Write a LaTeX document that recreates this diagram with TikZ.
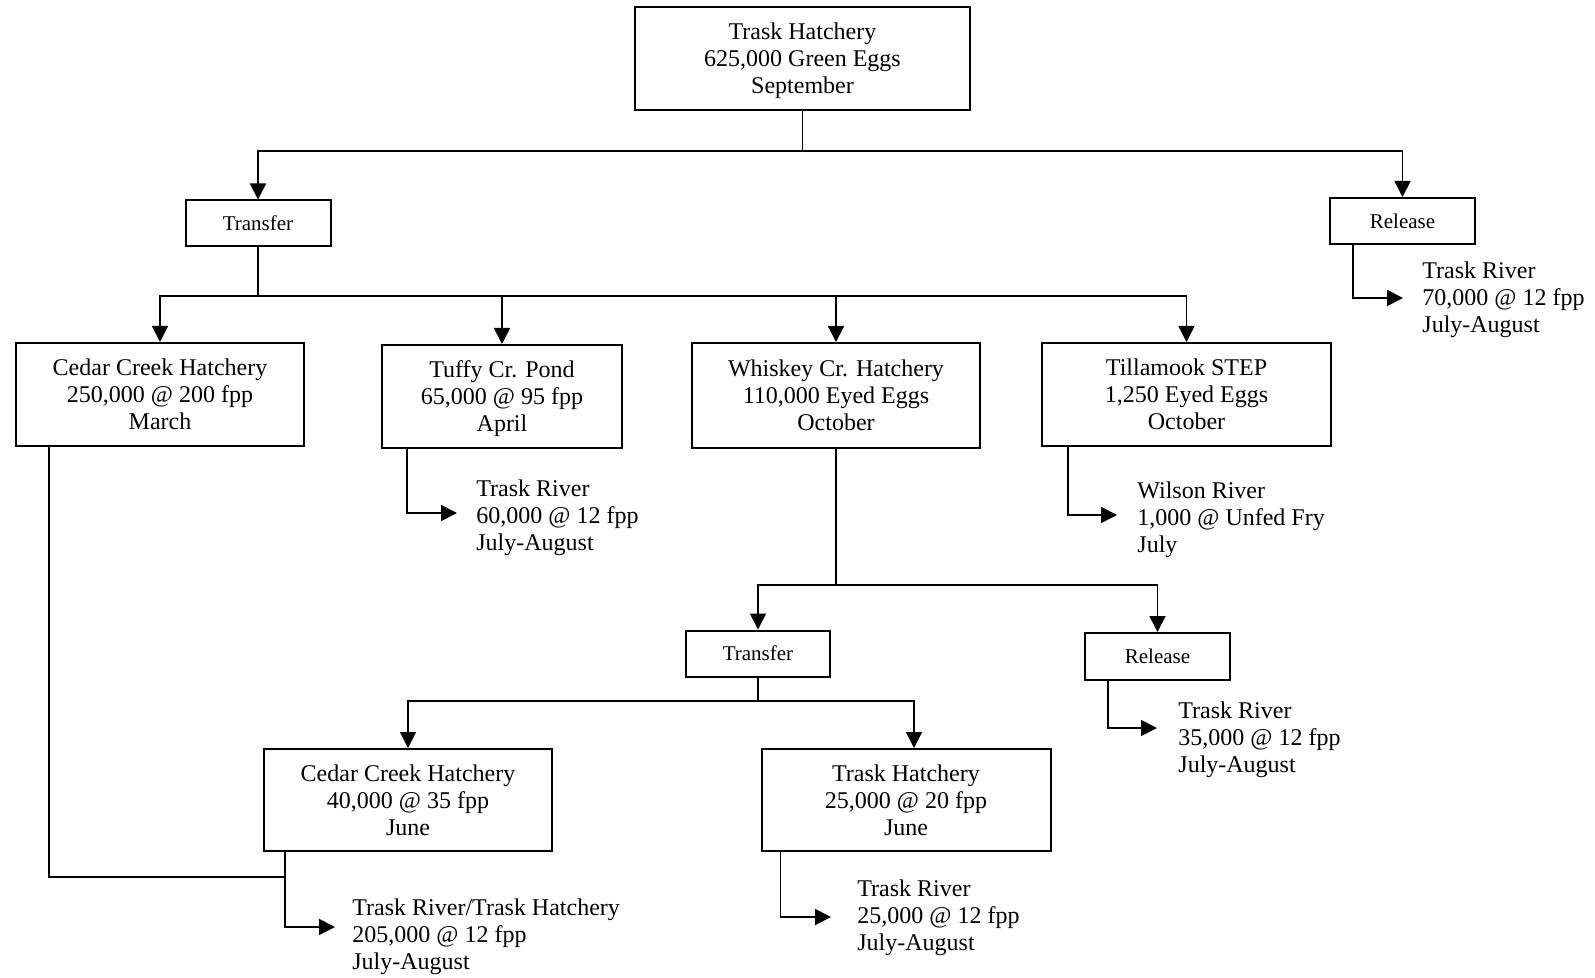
\documentclass[tikz,border=0pt]{standalone}
\usepackage{fontspec}
\setmainfont{Liberation Serif}
\usetikzlibrary{arrows.meta}

\begin{document}
\begin{tikzpicture}[x=0.5pt, y=-0.5pt,
	sitebox/.style={rectangle, draw=black, line width=1pt, align=center, inner sep=0pt, text depth=0pt, minimum width=144pt, minimum height=51.5pt, font=\fontsize{12}{13.5}\selectfont},
	actbox/.style={rectangle, draw=black, line width=1pt, inner sep=0pt, text depth=0pt, minimum width=72.5pt, minimum height=23pt, font=\fontsize{10.5}{12}\selectfont},
	outtext/.style={anchor=west, align=left, inner sep=0pt, font=\fontsize{12}{13.5}\selectfont},
	link/.style={line width=0.9pt},
	arrow/.style={line width=0.9pt, -{Triangle[length=8pt, width=8pt]}}]
	\useasboundingbox (0,0) rectangle (1595,978);

	\node[sitebox, minimum width=167.5pt] (trask) at (802.5,58.5) {Trask Hatchery\\625,000 Green Eggs\\September};
	\node[actbox] (transfer1) at (258,223.5) {Transfer};
	\node[actbox] (release1) at (1402.5,221) {Release};
	\node[sitebox] (cedar1) at (160,394.5) {Cedar Creek Hatchery\\250,000 @ 200 fpp\\March};
	\node[sitebox, minimum width=120pt] (tuffy) at (502,396.5) {Tuffy Cr. Pond\\65,000 @ 95 fpp\\April};
	\node[sitebox, minimum height=52.5pt] (whiskey) at (836,395.5) {Whiskey Cr. Hatchery\\110,000 Eyed Eggs\\October};
	\node[sitebox, minimum width=144.5pt] (tillamook) at (1186.5,394.5) {Tillamook STEP\\1,250 Eyed Eggs\\October};
	\node[actbox, minimum width=72pt] (transfer2) at (758,653.5) {Transfer};
	\node[actbox, minimum height=23.5pt] (release2) at (1157.5,656.5) {Release};
	\node[sitebox, minimum height=51pt] (cedar2) at (408,800) {Cedar Creek Hatchery\\40,000 @ 35 fpp\\June};
	\node[sitebox, minimum width=144.5pt, minimum height=51pt] (traskhatch) at (906,800) {Trask Hatchery\\25,000 @ 20 fpp\\June};

	\node[outtext] (rel1out) at (1422,300) {Trask River\\70,000 @ 12 fpp\\July-August};
	\node[outtext] (tuffyout) at (476,518) {Trask River\\60,000 @ 12 fpp\\July-August};
	\node[outtext] (tillout) at (1137,520) {Wilson River\\1,000 @ Unfed Fry\\July};
	\node[outtext] (rel2out) at (1178,740) {Trask River\\35,000 @ 12 fpp\\July-August};
	\node[outtext] (cedarout) at (352,937) {Trask River/Trask Hatchery\\205,000 @ 12 fpp\\July-August};
	\node[outtext] (traskout) at (857,918) {Trask River\\25,000 @ 12 fpp\\July-August};

	% junctions and arrow ends
	\coordinate (split1) at (802.5,151);
	\coordinate (split2) at (258,296);
	\coordinate (split3) at (836,585);
	\coordinate (split4) at (758,701);
	\coordinate (merge) at (286,877);
	\coordinate (rel1end) at (1403,298);
	\coordinate (tuffyend) at (457,513);
	\coordinate (tillend) at (1117,515);
	\coordinate (rel2end) at (1157,728);
	\coordinate (cedarend) at (335,927);
	\coordinate (traskend) at (831,917);

	\draw[link] (trask) -- (split1);
	\draw[arrow] (split1) -| (transfer1.north);
	\draw[arrow] (split1) -| (release1.north);
	\draw[link] (transfer1) -- (split2);
	\draw[arrow] (split2) -| (cedar1.north);
	\draw[arrow] (split2) -| (tuffy.north);
	\draw[arrow] (split2) -| (whiskey.north);
	\draw[arrow] (split2) -| (tillamook.north);
	\draw[link] (whiskey) -- (split3);
	\draw[arrow] (split3) -| (transfer2.north);
	\draw[arrow] (split3) -| (release2.north);
	\draw[link] (transfer2) -- (split4);
	\draw[arrow] (split4) -| (cedar2.north);
	\draw[arrow] (split4) -| ([xshift=4pt]traskhatch.north);

	\draw[arrow] ([xshift=12pt]release1.south west) |- (rel1end);
	\draw[arrow] ([xshift=13pt]tuffy.south west) |- (tuffyend);
	\draw[arrow] ([xshift=13.5pt]tillamook.south west) |- (tillend);
	\draw[arrow] ([xshift=12pt]release2.south west) |- (rel2end);
	\draw[link] ([xshift=17pt]cedar1.south west) |- (merge);
	\draw[arrow] ([xshift=11pt]cedar2.south west) |- (cedarend);
	\draw[arrow] ([xshift=10pt]traskhatch.south west) |- (traskend);
\end{tikzpicture}
\end{document}
